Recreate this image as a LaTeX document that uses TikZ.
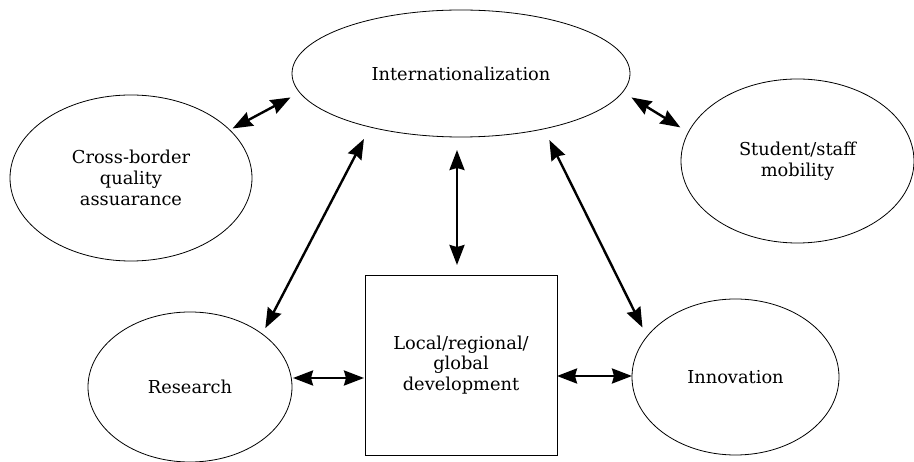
\documentclass[tikz,border=0pt]{standalone}
\usepackage{fontspec}
\setmainfont{DejaVu Serif}
\usetikzlibrary{arrows.meta,shapes.geometric,calc}
\tikzset{headtip/.tip={Stealth[length=20pt,width=15pt,inset=2pt]}}
\begin{document}
\begin{tikzpicture}[x=1pt,y=-1pt,
  txt/.style={align=center, font=\fontsize{17.8}{20.8}\selectfont, inner sep=0pt, outer sep=0pt},
  oval/.style={txt, draw, ellipse, line width=0.8pt},
  sq/.style={txt, draw, rectangle, line width=0.8pt},
  link/.style={line width=2.4pt, headtip-headtip}
]
\useasboundingbox (0,0) rectangle (914,462);
\node[oval, minimum width=338pt, minimum height=127pt] (int) at (461,73.5) {Internationalization};
\node[oval, minimum width=242pt, minimum height=166pt] (cb) at (131,178) {Cross-border\\quality\\assuarance};
\node[oval, minimum width=233pt, minimum height=164pt] (stu) at (797.5,161) {Student/staff\\mobility};
\node[oval, minimum width=204pt, minimum height=150pt] (res) at (190,387) {Research};
\node[oval, minimum width=207pt, minimum height=156pt] (inn) at (735.5,377) {Innovation};
\node[sq, minimum width=192pt, minimum height=180pt] (box) at (461,365) {Local/regional/\\global\\development};

\draw[link] ($(cb.center)!1.03!(cb.26)$) -- ($(int.center)!1.077!(int.188)$);
\draw[link] ($(int.center)!1.077!(int.352)$) -- ($(stu.center)!1.086!(stu.164)$);
\draw[link] ($(int.center)!1.18!(int.214)$) -- ($(res.center)!1.077!(res.38)$);
\draw[link] ($(int.south)+(-4,13)$) -- ($(box.north)+(-4,-10)$);
\draw[link] ($(int.center)!1.172!(int.323)$) -- ($(inn.center)!1.10!(inn.152)$);
\draw[link] ($(res.east)+(1,-9)$) -- ($(box.west)+(-1,13)$);
\draw[link] ($(box.east)+(0,11)$) -- ($(inn.west)+(0,-1)$);
\end{tikzpicture}
\end{document}
